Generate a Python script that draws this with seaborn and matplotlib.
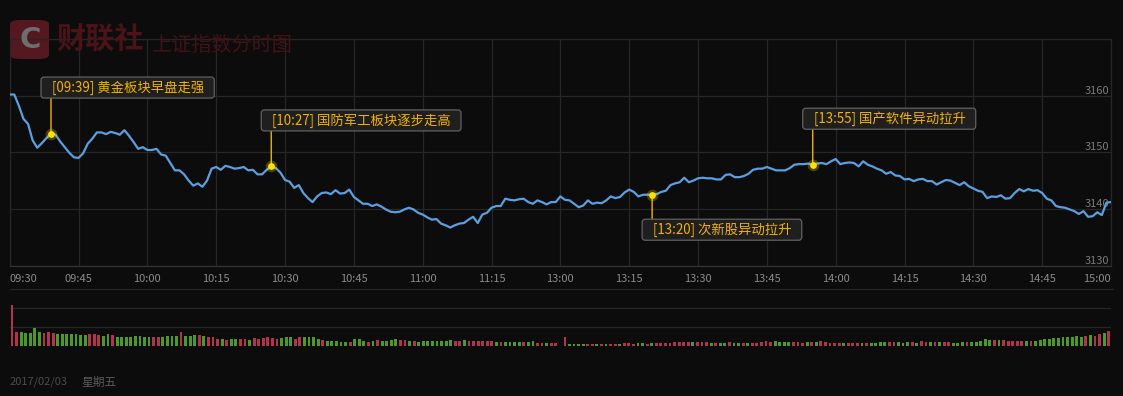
import numpy as np
import matplotlib
matplotlib.use("Agg")
import matplotlib.pyplot as plt
from matplotlib.patches import FancyBboxPatch
from matplotlib.transforms import IdentityTransform
import seaborn as sns

# minute index 0..240 (09:30-11:30 then 13:01-15:00)
price = [
    3160.2, 3160.2, 3158.2, 3155.9, 3155.0, 3152.1, 3150.8, 3151.6, 3152.5, 3153.3,
    3153.1, 3151.9, 3150.9, 3149.9, 3149.1, 3149.0, 3149.8, 3151.5, 3152.4, 3153.5,
    3153.5, 3153.2, 3153.6, 3153.4, 3153.1, 3153.9, 3152.9, 3151.8, 3150.6, 3150.9,
    3150.4, 3150.4, 3150.6, 3149.6, 3149.4, 3148.1, 3146.8, 3146.8, 3146.1, 3145.0,
    3144.1, 3144.5, 3143.9, 3145.0, 3147.1, 3147.4, 3146.9, 3147.6, 3147.4, 3147.1,
    3147.2, 3147.4, 3146.8, 3146.9, 3146.1, 3146.1, 3146.9, 3147.5, 3147.2, 3146.4,
    3145.1, 3144.8, 3143.7, 3144.2, 3142.8, 3141.9, 3141.2, 3142.2, 3142.8, 3142.9,
    3142.6, 3143.3, 3142.7, 3142.8, 3143.4, 3142.1, 3141.5, 3140.9, 3140.9, 3140.5,
    3140.8, 3140.4, 3139.9, 3139.5, 3139.4, 3139.5, 3139.9, 3140.2, 3139.9, 3139.3,
    3139.0, 3138.5, 3138.1, 3138.2, 3137.4, 3137.1, 3136.7, 3137.1, 3137.4, 3137.5,
    3138.1, 3138.6, 3137.5, 3139.0, 3139.3, 3140.2, 3140.5, 3140.5, 3141.8, 3141.6,
    3141.5, 3141.7, 3141.8, 3141.2, 3140.9, 3141.5, 3141.2, 3140.8, 3141.2, 3141.2,
    3142.2, 3141.6, 3141.5, 3140.9, 3140.3, 3140.6, 3141.5, 3140.9, 3141.1, 3141.0,
    3141.5, 3142.2, 3141.9, 3142.1, 3142.9, 3143.4, 3143.0, 3142.2, 3142.5, 3142.5,
    3142.5, 3142.6, 3143.0, 3143.2, 3144.2, 3144.5, 3144.7, 3145.5, 3144.7, 3145.0,
    3145.4, 3145.5, 3145.4, 3145.4, 3145.2, 3145.2, 3146.0, 3146.1, 3145.6, 3145.6,
    3145.8, 3146.2, 3146.9, 3147.1, 3147.1, 3147.4, 3147.1, 3146.8, 3146.8, 3146.8,
    3147.2, 3147.8, 3147.9, 3147.9, 3148.0, 3147.8, 3148.0, 3148.1, 3147.9, 3148.4,
    3148.8, 3147.9, 3148.1, 3148.2, 3148.1, 3147.5, 3148.4, 3147.8, 3147.5, 3147.1,
    3146.8, 3146.2, 3146.5, 3145.9, 3145.8, 3145.2, 3145.3, 3144.9, 3145.2, 3145.3,
    3144.9, 3144.9, 3144.3, 3144.7, 3145.1, 3145.0, 3144.6, 3144.2, 3144.7, 3144.0,
    3143.6, 3143.2, 3143.0, 3141.9, 3142.2, 3142.1, 3142.4, 3141.8, 3141.9, 3142.8,
    3143.5, 3143.1, 3143.5, 3143.2, 3143.3, 3142.8, 3141.8, 3141.5, 3140.5, 3140.3,
    3140.2, 3139.9, 3139.6, 3139.1, 3139.6, 3138.6, 3138.7, 3139.4, 3138.9, 3141.1,
    3141.2,
]

volume = [
    123, 42, 42, 39, 39, 52, 42, 39, 42, 37, 35, 35, 36, 36, 35, 33, 33, 34, 36, 33,
    30, 36, 31, 27, 27, 27, 27, 30, 28, 27, 27, 25, 25, 25, 30, 28, 28, 42, 30, 30,
    33, 33, 28, 27, 25, 21, 21, 18, 19, 21, 21, 21, 18, 24, 21, 24, 26, 24, 21, 24,
    25, 27, 21, 25, 27, 25, 27, 21, 18, 15, 15, 15, 12, 12, 12, 21, 21, 15, 12, 15,
    18, 15, 15, 18, 21, 18, 18, 15, 15, 12, 15, 15, 15, 15, 15, 15, 18, 15, 15, 18,
    15, 15, 15, 15, 15, 15, 12, 12, 12, 12, 12, 10, 12, 10, 13, 9, 9, 9, 9, 9,
    0, 25, 6, 6, 6, 6, 6, 6, 6, 6, 6, 6, 6, 6, 9, 9, 6, 9, 9, 6,
    9, 9, 9, 9, 9, 12, 12, 12, 12, 12, 12, 12, 12, 9, 9, 9, 9, 12, 9, 9,
    9, 9, 9, 9, 12, 15, 12, 15, 12, 12, 12, 12, 12, 9, 12, 12, 12, 15, 12, 9,
    9, 9, 9, 9, 9, 9, 9, 9, 9, 9, 12, 12, 12, 12, 12, 9, 12, 12, 9, 15,
    12, 12, 12, 12, 12, 12, 9, 9, 12, 12, 12, 12, 15, 21, 18, 18, 18, 18, 15, 15,
    15, 15, 15, 15, 15, 18, 21, 21, 24, 24, 27, 27, 27, 30, 27, 30, 33, 30, 36, 39,
    45,
]

# r = up minute, g = down minute
vol_dir = list(
    "rrgggggrrr" "gggggggrrr" "ggrggggggg" "grrggggrgg" "grgrrrgrgg" "rrgrrrrrrg"
    "ggrrggggrg" "ggggrgggrg" "rggggrrgrg" "gggggggrrg" "rrrrrrgrgg" "ggrggrrgrr"
    "g"
    "rggggrrgrg" "rrgrrrggrg" "rrrrrrrrgr" "rrgrggrggr" "grrrrrgggg" "rrrgrgrrrr"
    "rgrrrgrggg" "grrgggrgrr" "grgrrgggrg" "ggggrgrrrr" "rgrggggggg" "ggggrgrrgr"
)

time_ticks = [0, 15, 30, 45, 60, 75, 90, 105, 120, 135, 150, 165, 180, 195, 210, 225, 240]
time_labels = ["09:30", "09:45", "10:00", "10:15", "10:30", "10:45", "11:00", "11:15",
               "13:00", "13:15", "13:30", "13:45", "14:00", "14:15", "14:30", "14:45", "15:00"]
price_ticks = [3130, 3140, 3150, 3160]

event_idx = [9, 57, 140, 175]
event_text = ["[09:39] 黄金板块早盘走强", "[10:27] 国防军工板块逐步走高",
              "[13:20] 次新股异动拉升", "[13:55] 国产软件异动拉升"]
event_side = [1, 1, -1, 1]

minutes = np.arange(len(price))
event_val = [price[i] for i in event_idx]

BG = "#0c0c0c"
GRID = "#262626"
LINE = "#5a9fdf"
GOLD = "#f2b200"
RED = "#b0344c"
GREEN = "#4c9a26"

sns.set_style("dark")
plt.rcParams["font.family"] = ["Noto Sans CJK SC", "DejaVu Sans"]

W, H = 1123, 396
fig = plt.figure(figsize=(W / 100, H / 100), dpi=100, facecolor=BG)

# watermark
fig.add_artist(FancyBboxPatch((10 / W, 1 - 59 / H), 39 / W, 39 / H,
                              boxstyle="round,pad=0,rounding_size=0.01",
                              fc="#561820", ec="none", transform=fig.transFigure, zorder=0))
fig.text(30 / W, 1 - 40 / H, "C", color="#6e6e6e", fontsize=21, fontweight="bold",
         family="DejaVu Sans", ha="center", va="center", zorder=0.5)
fig.text(56 / W, 1 - 40 / H, "财联社", color="#4a1318", fontsize=21, fontweight="bold",
         ha="left", va="center", zorder=0.5)
fig.text(152 / W, 1 - 45 / H, "上证指数分时图", color="#421217", fontsize=14.5,
         ha="left", va="center", zorder=0.5)

ax = fig.add_axes([9.7 / W, 1 - 265.5 / H, (1111 - 9.7) / W, (265.5 - 39) / H])
ax.patch.set_alpha(0)
sns.lineplot(x=minutes, y=price, ax=ax, color=LINE, lw=1.6, zorder=3)
ax.set_xlim(0, 240)
ax.set_ylim(3130, 3170)
ax.set_xticks(time_ticks)
ax.set_xticklabels(time_labels)
ax.set_yticks(price_ticks + [3170])
ax.set_yticklabels([str(v) for v in price_ticks] + [""])
ax.yaxis.tick_right()
ax.grid(True, color=GRID, lw=0.9)
for s in ax.spines.values():
    s.set_visible(True)
    s.set_color(GRID)
    s.set_linewidth(0.9)
ax.spines["bottom"].set_color("#333333")
ax.tick_params(axis="x", direction="out", length=3, color="#3a3a3a", labelcolor="#8a8a8a",
               labelsize=8, pad=3)
ax.tick_params(axis="y", length=0, labelcolor="#7a7a7a", labelsize=8, pad=-1)
for lab in ax.get_yticklabels():
    lab.set_ha("right")
    lab.set_va("bottom")
xl = ax.get_xticklabels()
xl[0].set_ha("left")
xl[-1].set_ha("right")
ax.set_xlabel("")
ax.set_ylabel("")

# event markers
ax.scatter(event_idx, event_val, s=70, color="#ffe000", alpha=0.25, lw=0, zorder=6)
ax.scatter(event_idx, event_val, s=24, color="#ffe000", lw=0, zorder=7)

texts = []
for i, v, t, side in zip(event_idx, event_val, event_text, event_side):
    dy = 46 if side > 0 else -35
    ax.annotate("", xy=(i, v), xytext=(0, dy - 10.5 * side), textcoords="offset pixels",
                arrowprops=dict(arrowstyle="-", color=GOLD, lw=1, shrinkA=0, shrinkB=0), zorder=5)
    tx = ax.annotate(t, xy=(i, v), xytext=(1, dy), textcoords="offset pixels",
                     ha="left", va="center", color=GOLD, fontsize=9.6, zorder=8,
                     annotation_clip=False)
    texts.append(tx)

fig.canvas.draw()
for tx in texts:
    bb = tx.get_window_extent()
    cy = (bb.y0 + bb.y1) / 2
    box = FancyBboxPatch((bb.x0 - 11, cy - 10.5), bb.width + 21, 21,
                         boxstyle="round,pad=0,rounding_size=3",
                         fc="#1f1f1f", ec="#616161", lw=0.9,
                         transform=IdentityTransform(), zorder=7.5, clip_on=False)
    ax.add_artist(box)

# separator under time labels
fig.add_artist(plt.Line2D([9.7 / W, 1113 / W], [1 - 289 / H, 1 - 289 / H],
                          color=GRID, lw=0.9, transform=fig.transFigure))

# volume panel
axv = fig.add_axes([9.7 / W, 1 - 345.5 / H, (1111 - 9.7) / W, (345.5 - 289) / H])
axv.patch.set_alpha(0)
sns.barplot(x=minutes, y=volume, hue=vol_dir, palette={"r": RED, "g": GREEN},
            native_scale=True, width=0.62, dodge=False, legend=False, saturation=1,
            linewidth=0, edgecolor="none", ax=axv, zorder=3)
axv.set_xlim(-0.5, 240.5)
axv.set_ylim(0, 170)
axv.set_yticks([56.7, 113.3])
axv.set_xticks([])
axv.grid(True, axis="y", color=GRID, lw=0.9)
axv.grid(False, axis="x")
axv.tick_params(length=0, labelleft=False, labelbottom=False)
for s in axv.spines.values():
    s.set_visible(False)
axv.set_xlabel("")
axv.set_ylabel("")

fig.text(10 / W, 1 - 382 / H, "2017/02/03", color="#4c4c4c", fontsize=8, ha="left", va="center")
fig.text(81 / W, 1 - 382 / H, "星期五", color="#5a5a5a", fontsize=8.5, ha="left", va="center")

fig.savefig("out.png", dpi=100, facecolor=BG)
